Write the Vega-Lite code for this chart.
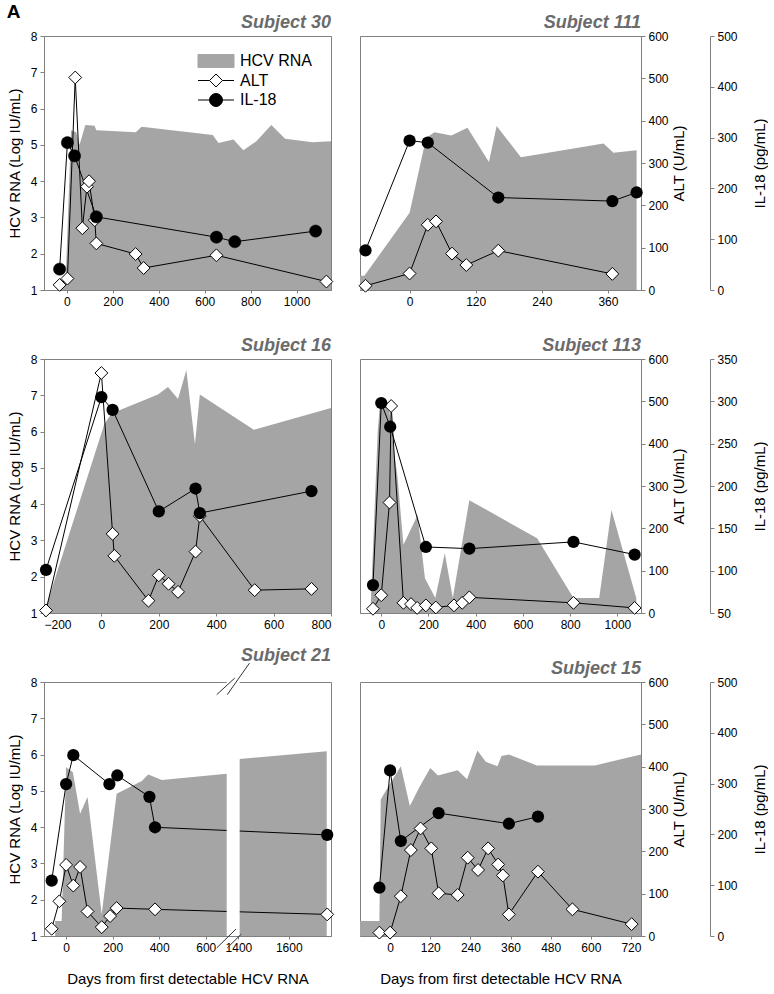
{
  "$schema": "https://vega.github.io/schema/vega-lite/v6.json",
  "padding": {"left": 6, "top": 2, "right": 0, "bottom": 0},
  "title": {"text": "A", "anchor": "start", "frame": "bounds", "fontStyle": "normal", "fontWeight": "bold", "color": "black", "fontSize": 19, "offset": -8},
  "config": {
    "font": "Liberation Sans",
    "view": {"stroke": "#808080", "strokeWidth": 1},
    "axis": {"grid": false, "domainColor": "#808080", "tickColor": "#808080", "labelColor": "black", "labelFontSize": 12, "titleFontSize": 15, "titleFontWeight": "normal", "titleColor": "black", "tickSize": 4, "labelPadding": 3},
    "axisX": {"tickSize": 3, "format": "d"},
    "title": {"fontSize": 18, "fontWeight": "bold", "fontStyle": "italic", "color": "#6b6b6b", "anchor": "end", "frame": "group", "offset": -2}
  },
  "columns": 2,
  "spacing": {"row": 69, "column": 29},
  "bounds": "flush",
  "resolve": {"scale": {"fill": "independent"}, "legend": {"fill": "independent"}},
  "datasets": {
    "s30": [
      {"s":"HCV","day":-40,"v":1.05},{"s":"HCV","day":-5,"v":1.4},{"s":"HCV","day":18,"v":5.4},{"s":"HCV","day":40,"v":5.35},{"s":"HCV","day":55,"v":5.0},{"s":"HCV","day":80,"v":5.55},{"s":"HCV","day":120,"v":5.53},{"s":"HCV","day":128,"v":5.4},{"s":"HCV","day":300,"v":5.35},{"s":"HCV","day":325,"v":5.5},{"s":"HCV","day":635,"v":5.27},{"s":"HCV","day":660,"v":5.05},{"s":"HCV","day":725,"v":5.15},{"s":"HCV","day":768,"v":4.85},{"s":"HCV","day":825,"v":5.1},{"s":"HCV","day":890,"v":5.55},{"s":"HCV","day":950,"v":5.17},{"s":"HCV","day":1070,"v":5.07},{"s":"HCV","day":1150,"v":5.1},
      {"s":"ALT","day":-32,"v":12},{"s":"ALT","day":2,"v":27},{"s":"ALT","day":36,"v":502},{"s":"ALT","day":67,"v":146},{"s":"ALT","day":87,"v":244},{"s":"ALT","day":96,"v":257},{"s":"ALT","day":121,"v":165},{"s":"ALT","day":128,"v":110},{"s":"ALT","day":299,"v":85},{"s":"ALT","day":334,"v":52},{"s":"ALT","day":651,"v":82},{"s":"ALT","day":1130,"v":20},
      {"s":"IL","day":-32,"v":41},{"s":"IL","day":2,"v":290},{"s":"IL","day":33,"v":264},{"s":"IL","day":128,"v":144},{"s":"IL","day":651,"v":104},{"s":"IL","day":731,"v":95},{"s":"IL","day":1083,"v":116}
    ],
    "s111": [
      {"s":"HCV","day":-90,"v":1.39},{"s":"HCV","day":-82,"v":1.39},{"s":"HCV","day":0,"v":3.13},{"s":"HCV","day":30,"v":5.19},{"s":"HCV","day":45,"v":5.35},{"s":"HCV","day":76,"v":5.26},{"s":"HCV","day":105,"v":5.47},{"s":"HCV","day":144,"v":4.53},{"s":"HCV","day":158,"v":5.52},{"s":"HCV","day":202,"v":4.66},{"s":"HCV","day":352,"v":5.04},{"s":"HCV","day":370,"v":4.78},{"s":"HCV","day":412,"v":4.85},
      {"s":"ALT","day":-80,"v":10},{"s":"ALT","day":0,"v":39},{"s":"ALT","day":33,"v":154},{"s":"ALT","day":48,"v":162},{"s":"ALT","day":77,"v":86},{"s":"ALT","day":103,"v":59},{"s":"ALT","day":161,"v":93},{"s":"ALT","day":368,"v":38},
      {"s":"IL","day":-80,"v":78},{"s":"IL","day":0,"v":294},{"s":"IL","day":33,"v":290},{"s":"IL","day":161,"v":182},{"s":"IL","day":368,"v":175},{"s":"IL","day":412,"v":192}
    ],
    "s16": [
      {"s":"HCV","day":-200,"v":1.0},{"s":"HCV","day":10,"v":6.2},{"s":"HCV","day":35,"v":6.5},{"s":"HCV","day":197,"v":7.02},{"s":"HCV","day":232,"v":7.23},{"s":"HCV","day":267,"v":6.9},{"s":"HCV","day":296,"v":7.7},{"s":"HCV","day":326,"v":5.65},{"s":"HCV","day":343,"v":7.02},{"s":"HCV","day":531,"v":6.05},{"s":"HCV","day":800,"v":6.65},
      {"s":"ALT","day":-193,"v":6},{"s":"ALT","day":0,"v":567},{"s":"ALT","day":39,"v":187},{"s":"ALT","day":45,"v":135},{"s":"ALT","day":164,"v":29},{"s":"ALT","day":200,"v":89},{"s":"ALT","day":234,"v":69},{"s":"ALT","day":267,"v":50},{"s":"ALT","day":328,"v":145},{"s":"ALT","day":343,"v":229},{"s":"ALT","day":534,"v":54},{"s":"ALT","day":732,"v":57},
      {"s":"IL","day":-193,"v":101},{"s":"IL","day":0,"v":305},{"s":"IL","day":39,"v":290},{"s":"IL","day":200,"v":170},{"s":"IL","day":328,"v":197},{"s":"IL","day":343,"v":168},{"s":"IL","day":732,"v":194}
    ],
    "s113": [
      {"s":"HCV","day":-46,"v":1.0},{"s":"HCV","day":-15,"v":6.0},{"s":"HCV","day":-5,"v":6.8},{"s":"HCV","day":30,"v":6.8},{"s":"HCV","day":55,"v":5.4},{"s":"HCV","day":68,"v":4.8},{"s":"HCV","day":94,"v":2.88},{"s":"HCV","day":154,"v":3.7},{"s":"HCV","day":185,"v":1.96},{"s":"HCV","day":229,"v":1.41},{"s":"HCV","day":269,"v":2.65},{"s":"HCV","day":303,"v":1.41},{"s":"HCV","day":373,"v":4.11},{"s":"HCV","day":660,"v":3.06},{"s":"HCV","day":814,"v":1.41},{"s":"HCV","day":923,"v":1.41},{"s":"HCV","day":975,"v":3.84},{"s":"HCV","day":1080,"v":1.41},
      {"s":"ALT","day":-35,"v":10},{"s":"ALT","day":0,"v":42},{"s":"ALT","day":35,"v":261},{"s":"ALT","day":42,"v":489},{"s":"ALT","day":94,"v":24},{"s":"ALT","day":126,"v":21},{"s":"ALT","day":152,"v":12},{"s":"ALT","day":189,"v":18},{"s":"ALT","day":231,"v":13},{"s":"ALT","day":308,"v":18},{"s":"ALT","day":343,"v":24},{"s":"ALT","day":373,"v":37},{"s":"ALT","day":814,"v":24},{"s":"ALT","day":1073,"v":12},
      {"s":"IL","day":-35,"v":83},{"s":"IL","day":0,"v":298},{"s":"IL","day":38,"v":270},{"s":"IL","day":189,"v":128},{"s":"IL","day":373,"v":126},{"s":"IL","day":814,"v":134},{"s":"IL","day":1073,"v":119}
    ],
    "s21": [
      {"s":"HCV","day":-47,"v":1.41},{"s":"HCV","day":-19,"v":1.41},{"s":"HCV","day":0,"v":5.65},{"s":"HCV","day":29,"v":5.51},{"s":"HCV","day":60,"v":4.37},{"s":"HCV","day":92,"v":4.83},{"s":"HCV","day":153,"v":1.6},{"s":"HCV","day":217,"v":4.92},{"s":"HCV","day":325,"v":5.27},{"s":"HCV","day":353,"v":5.45},{"s":"HCV","day":411,"v":5.3},{"s":"HCV","day":690,"v":5.47},{"s":"HCV","day":1405,"v":5.88},{"s":"HCV","day":1751,"v":6.09},
      {"s":"ALT","day":-62,"v":17},{"s":"ALT","day":-29,"v":82},{"s":"ALT","day":0,"v":168},{"s":"ALT","day":31,"v":119},{"s":"ALT","day":60,"v":163},{"s":"ALT","day":92,"v":58},{"s":"ALT","day":153,"v":21},{"s":"ALT","day":189,"v":47},{"s":"ALT","day":217,"v":66},{"s":"ALT","day":382,"v":63},{"s":"ALT","day":1753,"v":51},
      {"s":"IL","day":-62,"v":109},{"s":"IL","day":0,"v":299},{"s":"IL","day":31,"v":356},{"s":"IL","day":186,"v":299},{"s":"IL","day":220,"v":316},{"s":"IL","day":358,"v":274},{"s":"IL","day":382,"v":214},{"s":"IL","day":1753,"v":199},
      {"s":"GAP","day":690,"day2":1405},
      {"s":"BRK","day":647,"day2":1183,"v":7.65,"v2":8.11},{"s":"BRK","day":723,"day2":1444,"v":7.65,"v2":8.52},{"s":"BRK","day":647,"day2":1249,"v":0.67,"v2":1.19},{"s":"BRK","day":723,"day2":1411,"v":0.67,"v2":1.05}
    ],
    "s15": [
      {"s":"HCV","day":-90,"v":1.41},{"s":"HCV","day":-32,"v":1.41},{"s":"HCV","day":-28,"v":4.76},{"s":"HCV","day":0,"v":5.2},{"s":"HCV","day":32,"v":5.68},{"s":"HCV","day":59,"v":4.58},{"s":"HCV","day":89,"v":5.13},{"s":"HCV","day":120,"v":5.63},{"s":"HCV","day":143,"v":5.42},{"s":"HCV","day":202,"v":5.57},{"s":"HCV","day":230,"v":5.32},{"s":"HCV","day":261,"v":6.11},{"s":"HCV","day":286,"v":5.8},{"s":"HCV","day":321,"v":5.68},{"s":"HCV","day":333,"v":5.96},{"s":"HCV","day":355,"v":6.0},{"s":"HCV","day":439,"v":5.7},{"s":"HCV","day":513,"v":5.7},{"s":"HCV","day":612,"v":5.7},{"s":"HCV","day":690,"v":5.87},{"s":"HCV","day":750,"v":6.0},
      {"s":"ALT","day":-32,"v":8},{"s":"ALT","day":0,"v":8},{"s":"ALT","day":32,"v":94},{"s":"ALT","day":62,"v":203},{"s":"ALT","day":91,"v":254},{"s":"ALT","day":123,"v":207},{"s":"ALT","day":145,"v":101},{"s":"ALT","day":202,"v":97},{"s":"ALT","day":232,"v":185},{"s":"ALT","day":263,"v":156},{"s":"ALT","day":293,"v":207},{"s":"ALT","day":323,"v":169},{"s":"ALT","day":337,"v":143},{"s":"ALT","day":355,"v":51},{"s":"ALT","day":442,"v":152},{"s":"ALT","day":545,"v":63},{"s":"ALT","day":722,"v":28},
      {"s":"IL","day":-32,"v":95},{"s":"IL","day":0,"v":326},{"s":"IL","day":32,"v":187},{"s":"IL","day":145,"v":242},{"s":"IL","day":355,"v":221},{"s":"IL","day":442,"v":235}
    ]
  },
  "concat": [
    {
      "width": 287, "height": 254,
      "title": {"text": "Subject 30"},
      "data": {"name": "s30"},
      "encoding": {"x": {"field": "day", "type": "quantitative", "scale": {"domain": [-100, 1150], "nice": false, "zero": false}, "axis": {"values": [0, 200, 400, 600, 800, 1000], "title": null}}},
      "layer": [
        {"transform": [{"filter": "datum.s === 'HCV'"}], "mark": {"type": "area", "color": "#a5a5a5"},
         "encoding": {"y": {"field": "v", "type": "quantitative", "scale": {"domain": [1, 8], "nice": false, "zero": false}, "axis": {"orient": "left", "values": [1,2,3,4,5,6,7,8], "title": "HCV RNA (Log IU/mL)", "titlePadding": 8}}, "y2": {"datum": 1},
           "fill": {"datum": "HCV RNA", "type": "nominal", "scale": {"domain": ["HCV RNA", "ALT", "IL-18"], "range": ["#a5a5a5", "white", "black"]},
             "legend": {"title": null, "orient": "none", "legendX": 164, "legendY": 17, "padding": 0, "labelFontSize": 16, "labelColor": "black", "symbolSize": 144, "symbolStrokeWidth": 1, "labelOffset": 16, "rowPadding": 1.5, "symbolOpacity": 1,
               "encode": {"symbols": {"update": {"shape": {"signal": "datum.value === 'HCV RNA' ? 'M-3,-1.08H3V1.08H-3Z' : datum.value === 'ALT' ? 'M-3,0H-1.08M1.08,0H3M0,-1.08L1.08,0L0,1.08L-1.08,0Z' : 'M-3,0H3M-1.08,0A1.08,1.08,0,1,0,1.08,0A1.08,1.08,0,1,0,-1.08,0Z'"}, "stroke": {"signal": "datum.value === 'HCV RNA' ? '#a5a5a5' : 'black'"}, "opacity": {"value": 1}}}}}}}},
        {"transform": [{"filter": "datum.s === 'IL'"}], "mark": {"type": "line", "color": "black", "strokeWidth": 1},
         "encoding": {"y": {"field": "v", "type": "quantitative", "scale": {"domain": [0, 500], "nice": false}, "axis": null}}},
        {"transform": [{"filter": "datum.s === 'ALT'"}], "mark": {"type": "line", "color": "black", "strokeWidth": 1},
         "encoding": {"y": {"field": "v", "type": "quantitative", "scale": {"domain": [0, 600], "nice": false}, "axis": null}}},
        {"transform": [{"filter": "datum.s === 'ALT'"}], "mark": {"type": "point", "shape": "diamond", "filled": true, "stroke": "black", "strokeWidth": 1, "size": 165, "opacity": 1},
         "encoding": {"y": {"field": "v", "type": "quantitative", "scale": {"domain": [0, 600], "nice": false}, "axis": null}, "fill": {"datum": "ALT", "type": "nominal"}}},
        {"transform": [{"filter": "datum.s === 'IL'"}], "mark": {"type": "circle", "size": 150, "opacity": 1, "stroke": "black", "strokeWidth": 0.5},
         "encoding": {"y": {"field": "v", "type": "quantitative", "scale": {"domain": [0, 500], "nice": false}, "axis": null}, "fill": {"datum": "IL-18", "type": "nominal"}}}
      ],
      "resolve": {"scale": {"y": "independent"}}
    },
    {
      "width": 281, "height": 254,
      "title": {"text": "Subject 111"},
      "data": {"name": "s111"},
      "encoding": {"x": {"field": "day", "type": "quantitative", "scale": {"domain": [-90, 420], "nice": false, "zero": false}, "axis": {"values": [0, 120, 240, 360], "title": null}}},
      "layer": [
        {"transform": [{"filter": "datum.s === 'HCV'"}], "mark": {"type": "area", "color": "#a5a5a5"},
         "encoding": {"y": {"field": "v", "type": "quantitative", "scale": {"domain": [1, 8], "nice": false, "zero": false}, "axis": null}, "y2": {"datum": 1}}},
        {"transform": [{"filter": "datum.s === 'IL'"}], "mark": {"type": "line", "color": "black", "strokeWidth": 1},
         "encoding": {"y": {"field": "v", "type": "quantitative", "scale": {"domain": [0, 500], "nice": false}, "axis": {"orient": "right", "offset": 69, "values": [0,100,200,300,400,500], "title": "IL-18 (pg/mL)", "titleAngle": 270, "titleBaseline": "top", "titlePadding": 15}}}},
        {"transform": [{"filter": "datum.s === 'ALT'"}], "mark": {"type": "line", "color": "black", "strokeWidth": 1},
         "encoding": {"y": {"field": "v", "type": "quantitative", "scale": {"domain": [0, 600], "nice": false}, "axis": {"orient": "right", "values": [0,100,200,300,400,500,600], "title": "ALT (U/mL)", "titleAngle": 270, "titleBaseline": "top", "titlePadding": 3}}}},
        {"transform": [{"filter": "datum.s === 'ALT'"}], "mark": {"type": "point", "shape": "diamond", "filled": true, "fill": "white", "stroke": "black", "strokeWidth": 1, "size": 165, "opacity": 1},
         "encoding": {"y": {"field": "v", "type": "quantitative", "scale": {"domain": [0, 600], "nice": false}, "axis": null}}},
        {"transform": [{"filter": "datum.s === 'IL'"}], "mark": {"type": "circle", "size": 150, "opacity": 1, "color": "black"},
         "encoding": {"y": {"field": "v", "type": "quantitative", "scale": {"domain": [0, 500], "nice": false}, "axis": null}}}
      ],
      "resolve": {"scale": {"y": "independent"}}
    },
    {
      "width": 287, "height": 254,
      "title": {"text": "Subject 16"},
      "data": {"name": "s16"},
      "encoding": {"x": {"field": "day", "type": "quantitative", "scale": {"domain": [-200, 800], "nice": false, "zero": false}, "axis": {"values": [-200, 0, 200, 400, 600, 800], "title": null}}},
      "layer": [
        {"transform": [{"filter": "datum.s === 'HCV'"}], "mark": {"type": "area", "color": "#a5a5a5"},
         "encoding": {"y": {"field": "v", "type": "quantitative", "scale": {"domain": [1, 8], "nice": false, "zero": false}, "axis": {"orient": "left", "values": [1,2,3,4,5,6,7,8], "title": "HCV RNA (Log IU/mL)", "titlePadding": 8}}, "y2": {"datum": 1}}},
        {"transform": [{"filter": "datum.s === 'IL'"}], "mark": {"type": "line", "color": "black", "strokeWidth": 1},
         "encoding": {"y": {"field": "v", "type": "quantitative", "scale": {"domain": [50, 350], "nice": false, "zero": false}, "axis": null}}},
        {"transform": [{"filter": "datum.s === 'ALT'"}], "mark": {"type": "line", "color": "black", "strokeWidth": 1},
         "encoding": {"y": {"field": "v", "type": "quantitative", "scale": {"domain": [0, 600], "nice": false}, "axis": null}}},
        {"transform": [{"filter": "datum.s === 'ALT'"}], "mark": {"type": "point", "shape": "diamond", "filled": true, "fill": "white", "stroke": "black", "strokeWidth": 1, "size": 165, "opacity": 1},
         "encoding": {"y": {"field": "v", "type": "quantitative", "scale": {"domain": [0, 600], "nice": false}, "axis": null}}},
        {"transform": [{"filter": "datum.s === 'IL'"}], "mark": {"type": "circle", "size": 150, "opacity": 1, "color": "black"},
         "encoding": {"y": {"field": "v", "type": "quantitative", "scale": {"domain": [50, 350], "nice": false, "zero": false}, "axis": null}}}
      ],
      "resolve": {"scale": {"y": "independent"}}
    },
    {
      "width": 281, "height": 254,
      "title": {"text": "Subject 113"},
      "data": {"name": "s113"},
      "encoding": {"x": {"field": "day", "type": "quantitative", "scale": {"domain": [-90, 1100], "nice": false, "zero": false}, "axis": {"values": [0, 200, 400, 600, 800, 1000], "title": null}}},
      "layer": [
        {"transform": [{"filter": "datum.s === 'HCV'"}], "mark": {"type": "area", "color": "#a5a5a5"},
         "encoding": {"y": {"field": "v", "type": "quantitative", "scale": {"domain": [1, 8], "nice": false, "zero": false}, "axis": null}, "y2": {"datum": 1}}},
        {"transform": [{"filter": "datum.s === 'IL'"}], "mark": {"type": "line", "color": "black", "strokeWidth": 1},
         "encoding": {"y": {"field": "v", "type": "quantitative", "scale": {"domain": [50, 350], "nice": false, "zero": false}, "axis": {"orient": "right", "offset": 69, "values": [50,100,150,200,250,300,350], "title": "IL-18 (pg/mL)", "titleAngle": 270, "titleBaseline": "top", "titlePadding": 15}}}},
        {"transform": [{"filter": "datum.s === 'ALT'"}], "mark": {"type": "line", "color": "black", "strokeWidth": 1},
         "encoding": {"y": {"field": "v", "type": "quantitative", "scale": {"domain": [0, 600], "nice": false}, "axis": {"orient": "right", "values": [0,100,200,300,400,500,600], "title": "ALT (U/mL)", "titleAngle": 270, "titleBaseline": "top", "titlePadding": 3}}}},
        {"transform": [{"filter": "datum.s === 'ALT'"}], "mark": {"type": "point", "shape": "diamond", "filled": true, "fill": "white", "stroke": "black", "strokeWidth": 1, "size": 165, "opacity": 1},
         "encoding": {"y": {"field": "v", "type": "quantitative", "scale": {"domain": [0, 600], "nice": false}, "axis": null}}},
        {"transform": [{"filter": "datum.s === 'IL'"}], "mark": {"type": "circle", "size": 150, "opacity": 1, "color": "black"},
         "encoding": {"y": {"field": "v", "type": "quantitative", "scale": {"domain": [50, 350], "nice": false, "zero": false}, "axis": null}}}
      ],
      "resolve": {"scale": {"y": "independent"}}
    },
    {
      "width": 287, "height": 254,
      "title": {"text": "Subject 21"},
      "data": {"name": "s21"},
      "encoding": {"x": {"field": "day", "type": "quantitative", "scale": {"domain": [-95, 690, 1400, 1768], "range": [0, 182.7, 194.4, 287], "nice": false, "zero": false}, "axis": {"values": [0, 200, 400, 600, 1400, 1600], "title": "Days from first detectable HCV RNA", "titlePadding": 18}}},
      "layer": [
        {"transform": [{"filter": "datum.s === 'HCV'"}], "mark": {"type": "area", "color": "#a5a5a5"},
         "encoding": {"y": {"field": "v", "type": "quantitative", "scale": {"domain": [1, 8], "nice": false, "zero": false}, "axis": {"orient": "left", "values": [1,2,3,4,5,6,7,8], "title": "HCV RNA (Log IU/mL)", "titlePadding": 8}}, "y2": {"datum": 1}}},
        {"transform": [{"filter": "datum.s === 'IL'"}], "mark": {"type": "line", "color": "black", "strokeWidth": 1},
         "encoding": {"y": {"field": "v", "type": "quantitative", "scale": {"domain": [0, 500], "nice": false}, "axis": null}}},
        {"transform": [{"filter": "datum.s === 'ALT'"}], "mark": {"type": "line", "color": "black", "strokeWidth": 1},
         "encoding": {"y": {"field": "v", "type": "quantitative", "scale": {"domain": [0, 600], "nice": false}, "axis": null}}},
        {"transform": [{"filter": "datum.s === 'GAP'"}], "mark": {"type": "rect", "color": "white"},
         "encoding": {"x2": {"field": "day2"}}},
        {"transform": [{"filter": "datum.s === 'ALT'"}], "mark": {"type": "point", "shape": "diamond", "filled": true, "fill": "white", "stroke": "black", "strokeWidth": 1, "size": 165, "opacity": 1},
         "encoding": {"y": {"field": "v", "type": "quantitative", "scale": {"domain": [0, 600], "nice": false}, "axis": null}}},
        {"transform": [{"filter": "datum.s === 'IL'"}], "mark": {"type": "circle", "size": 150, "opacity": 1, "color": "black"},
         "encoding": {"y": {"field": "v", "type": "quantitative", "scale": {"domain": [0, 500], "nice": false}, "axis": null}}},
        {"transform": [{"filter": "datum.s === 'BRK'"}], "mark": {"type": "rule", "color": "#333333", "strokeWidth": 1},
         "encoding": {"x2": {"field": "day2"}, "y": {"field": "v", "type": "quantitative", "scale": {"domain": [1, 8], "nice": false, "zero": false}, "axis": null}, "y2": {"field": "v2"}}}
      ],
      "resolve": {"scale": {"y": "independent"}}
    },
    {
      "width": 281, "height": 254,
      "title": {"text": "Subject 15"},
      "data": {"name": "s15"},
      "encoding": {"x": {"field": "day", "type": "quantitative", "scale": {"domain": [-90, 750], "nice": false, "zero": false}, "axis": {"values": [0, 120, 240, 360, 480, 600, 720], "title": "Days from first detectable HCV RNA", "titlePadding": 18}}},
      "layer": [
        {"transform": [{"filter": "datum.s === 'HCV'"}], "mark": {"type": "area", "color": "#a5a5a5"},
         "encoding": {"y": {"field": "v", "type": "quantitative", "scale": {"domain": [1, 8], "nice": false, "zero": false}, "axis": null}, "y2": {"datum": 1}}},
        {"transform": [{"filter": "datum.s === 'IL'"}], "mark": {"type": "line", "color": "black", "strokeWidth": 1},
         "encoding": {"y": {"field": "v", "type": "quantitative", "scale": {"domain": [0, 500], "nice": false}, "axis": {"orient": "right", "offset": 69, "values": [0,100,200,300,400,500], "title": "IL-18 (pg/mL)", "titleAngle": 270, "titleBaseline": "top", "titlePadding": 15}}}},
        {"transform": [{"filter": "datum.s === 'ALT'"}], "mark": {"type": "line", "color": "black", "strokeWidth": 1},
         "encoding": {"y": {"field": "v", "type": "quantitative", "scale": {"domain": [0, 600], "nice": false}, "axis": {"orient": "right", "values": [0,100,200,300,400,500,600], "title": "ALT (U/mL)", "titleAngle": 270, "titleBaseline": "top", "titlePadding": 3}}}},
        {"transform": [{"filter": "datum.s === 'ALT'"}], "mark": {"type": "point", "shape": "diamond", "filled": true, "fill": "white", "stroke": "black", "strokeWidth": 1, "size": 165, "opacity": 1},
         "encoding": {"y": {"field": "v", "type": "quantitative", "scale": {"domain": [0, 600], "nice": false}, "axis": null}}},
        {"transform": [{"filter": "datum.s === 'IL'"}], "mark": {"type": "circle", "size": 150, "opacity": 1, "color": "black"},
         "encoding": {"y": {"field": "v", "type": "quantitative", "scale": {"domain": [0, 500], "nice": false}, "axis": null}}}
      ],
      "resolve": {"scale": {"y": "independent"}}
    }
  ]
}
